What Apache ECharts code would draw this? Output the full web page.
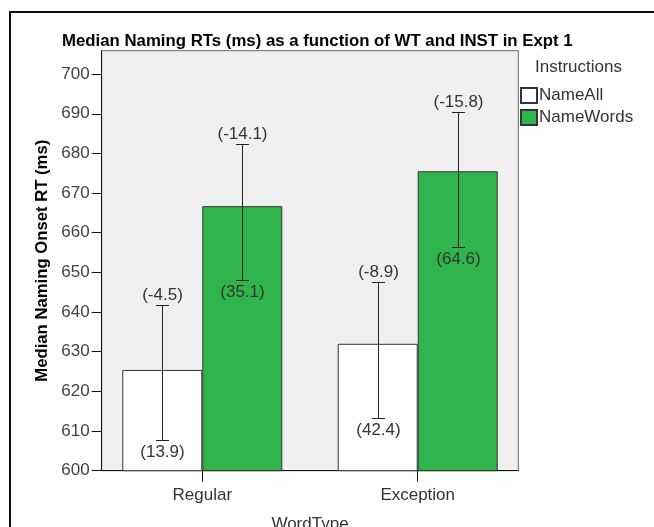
<!DOCTYPE html>
<html>
<head>
<meta charset="utf-8">
<script src="https://cdn.jsdelivr.net/npm/echarts@6/dist/echarts.min.js"></script>
<style>html,body{margin:0;padding:0;background:#fff;}#c{width:654px;height:527px;}</style>
</head>
<body>
<div id="c"></div>
<script>
const categories = ['Regular', 'Exception'];
const categoryPositions = [1, 2];
const seriesNames = ['NameAll', 'NameWords'];
const nameAllMeans = [625.4, 632.0];
const nameWordsMeans = [666.7, 675.5];
const nameAllUpper = [641.9, 647.6];
const nameAllLower = [607.7, 613.2];
const nameWordsUpper = [682.5, 690.5];
const nameWordsLower = [648.1, 656.5];
const nameAllUpperLabels = ['(-4.5)', '(-8.9)'];
const nameAllLowerLabels = ['(13.9)', '(42.4)'];
const nameWordsUpperLabels = ['(-14.1)', '(-15.8)'];
const nameWordsLowerLabels = ['(35.1)', '(64.6)'];
const yTicks = [600, 610, 620, 630, 640, 650, 660, 670, 680, 690, 700];

const FONT = '"Liberation Sans", Arial, sans-serif';
const FS = 17;
const BAR_WIDTH = 80;
const CAP = 13;

function errorSeries(upper, lower, upLabels, lowLabels, sign) {
  return {
    type: 'custom',
    z: 10,
    clip: false,
    silent: true,
    data: categoryPositions.map((x, i) => [x, lower[i], upper[i], i]),
    encode: { x: 0, y: [1, 2] },
    renderItem: function (params, api) {
      const x = api.value(0);
      const idx = api.value(3);
      const lo = api.coord([x, api.value(1)]);
      const hi = api.coord([x, api.value(2)]);
      const cx = Math.round(lo[0] + sign * BAR_WIDTH / 2) + 0.5;
      const ly = Math.round(lo[1]) + 0.5;
      const hy = Math.round(hi[1]) + 0.5;
      const ls = { stroke: '#222', lineWidth: 1 };
      const ts = (t, y) => ({ text: t, x: cx, y: y, align: 'center', verticalAlign: 'middle',
        fill: '#333', font: FS + 'px ' + FONT });
      return {
        type: 'group',
        children: [
          { type: 'line', shape: { x1: cx, y1: ly, x2: cx, y2: hy }, style: ls },
          { type: 'line', shape: { x1: cx - CAP / 2, y1: hy, x2: cx + CAP / 2, y2: hy }, style: ls },
          { type: 'line', shape: { x1: cx - CAP / 2, y1: ly, x2: cx + CAP / 2, y2: ly }, style: ls },
          { type: 'text', style: ts(upLabels[idx], hy - 10) },
          { type: 'text', style: ts(lowLabels[idx], ly + 12) }
        ]
      };
    }
  };
}

const chart = echarts.init(document.getElementById('c'), null, { renderer: 'canvas' });
chart.setOption({
  animation: false,
  backgroundColor: '#fff',
  textStyle: { fontFamily: FONT },
  graphic: [{
    type: 'rect', left: 7.5, top: 9.5, z: 100,
    shape: { width: 1000, height: 1000 },
    style: { fill: 'none', stroke: '#111', lineWidth: 2 }
  }],
  title: [{
    text: 'Median Naming RTs (ms) as a function of WT and INST in Expt 1',
    left: 62, top: 33, padding: 0,
    textStyle: { fontSize: 16.8, fontWeight: 'bold', color: '#000', fontFamily: FONT, lineHeight: 16 }
  }, {
    text: 'Instructions',
    left: 535, top: 59, padding: 0,
    textStyle: { fontSize: FS, fontWeight: 'normal', color: '#333', fontFamily: FONT, lineHeight: 16 }
  }],
  legend: {
    data: seriesNames,
    orient: 'vertical',
    left: 520, top: 87, padding: 0,
    itemWidth: 16, itemHeight: 15, itemGap: 5,
    icon: 'rect',
    selectedMode: false,
    textStyle: { fontSize: FS, color: '#333', fontFamily: FONT, padding: [0, 0, 0, -3] }
  },
  grid: {
    left: 101.7, right: 135.7, top: 50.7, bottom: 56.3,
    show: true, backgroundColor: '#f0f0f0', borderColor: '#666', borderWidth: 1,
    containLabel: false, outerBoundsMode: 'none'
  },
  xAxis: {
    type: 'value',
    min: 0.533, max: 2.467,
    splitLine: { show: false },
    axisLine: { show: true, lineStyle: { color: '#111', width: 1 } },
    axisTick: { show: true, length: 11, lineStyle: { color: '#111' }, customValues: categoryPositions },
    axisLabel: {
      customValues: categoryPositions,
      formatter: v => categories[categoryPositions.indexOf(Math.round(v))] || '',
      fontSize: FS, color: '#333', margin: 16, fontFamily: FONT
    },
    name: 'WordType', nameLocation: 'middle', nameGap: 45,
    nameTextStyle: { fontSize: FS, color: '#333', fontFamily: FONT }
  },
  yAxis: {
    type: 'value',
    min: 600, max: 705.9,
    splitLine: { show: false },
    axisLine: { show: true, lineStyle: { color: '#111', width: 1 } },
    axisTick: { show: true, length: 10, lineStyle: { color: '#111' }, customValues: yTicks },
    axisLabel: { customValues: yTicks, fontSize: FS, color: '#444', margin: 12, fontFamily: FONT },
    name: 'Median Naming Onset RT (ms)', nameLocation: 'middle', nameGap: 51,
    nameTextStyle: { fontSize: 16.7, fontWeight: 'bold', color: '#000', fontFamily: FONT }
  },
  series: [{
    name: seriesNames[0], type: 'bar', barWidth: BAR_WIDTH, barGap: '0%',
    itemStyle: { color: '#ffffff', borderColor: '#333', borderWidth: 1 },
    data: categoryPositions.map((x, i) => [x, nameAllMeans[i]])
  }, {
    name: seriesNames[1], type: 'bar', barWidth: BAR_WIDTH, barGap: '0%',
    itemStyle: { color: '#2fb54b', borderColor: '#333', borderWidth: 1 },
    data: categoryPositions.map((x, i) => [x, nameWordsMeans[i]])
  },
  errorSeries(nameAllUpper, nameAllLower, nameAllUpperLabels, nameAllLowerLabels, -1),
  errorSeries(nameWordsUpper, nameWordsLower, nameWordsUpperLabels, nameWordsLowerLabels, 1)
  ]
});
</script>
</body>
</html>
